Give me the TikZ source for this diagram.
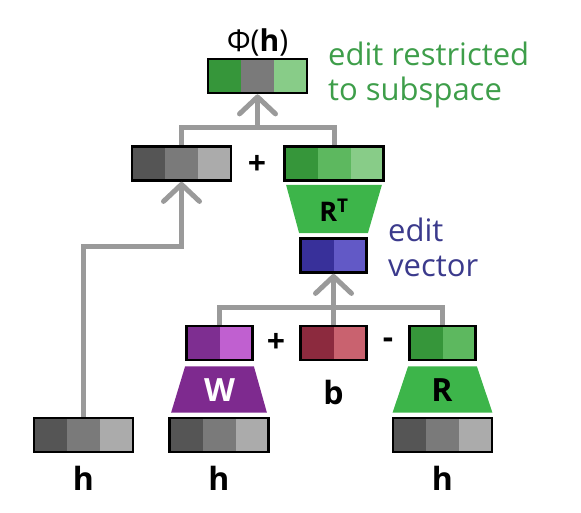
\documentclass[tikz,border=0pt]{standalone}
\usepackage{fontspec}
\setmainfont{Open Sans}
\usetikzlibrary{arrows.meta}
\definecolor{wire}{HTML}{9A9A9A}
\definecolor{gA}{HTML}{555555}\definecolor{gB}{HTML}{7A7A7A}\definecolor{gC}{HTML}{ABABAB}
\definecolor{grA}{HTML}{36963A}\definecolor{grB}{HTML}{5DB85F}\definecolor{grC}{HTML}{88CC88}
\definecolor{trapG}{HTML}{3DB54A}\definecolor{trapW}{HTML}{7E2A8F}
\definecolor{wA}{HTML}{7E2E91}\definecolor{wB}{HTML}{C060D0}
\definecolor{bA}{HTML}{8C2A3E}\definecolor{bB}{HTML}{C9626F}
\definecolor{eA}{HTML}{38309A}\definecolor{eB}{HTML}{6259C6}
\definecolor{txtG}{HTML}{3E9E4A}\definecolor{txtE}{HTML}{3B3A8C}
\tikzset{vec/.style={draw=black,line width=2.8pt,inner sep=0pt,minimum height=34pt}, tri/.style n args={3}{vec,minimum width=99pt,path picture={\fill[#1](path picture bounding box.south west)rectangle++(33pt,34pt);\fill[#2]([xshift=33pt]path picture bounding box.south west)rectangle++(33pt,34pt);\fill[#3]([xshift=66pt]path picture bounding box.south west)rectangle++(33pt,34pt);}}, duo/.style 2 args={vec,minimum width=66pt,path picture={\fill[#1](path picture bounding box.south west)rectangle++(33pt,34pt);\fill[#2]([xshift=33pt]path picture bounding box.south west)rectangle++(33pt,34pt);}}, link/.style={line width=5pt,draw=wire}, arr/.style={link,-{Straight Barb[round,length=17pt,width=36pt]}}, lbl/.style={inner sep=0pt,font=\bfseries\fontsize{32}{36}\selectfont}, note/.style={inner sep=0pt,anchor=north west,align=left,font=\fontsize{31}{35}\selectfont}}

\begin{document}
\begin{tikzpicture}[x=1pt,y=-1pt]
\useasboundingbox(0,0)rectangle(581,513);
\node[tri={gA}{gB}{gC}](hL)at(83.5,435){};\node[tri={gA}{gB}{gC}](hW)at(219,435){};\node[tri={gA}{gB}{gC}](hR)at(442.5,435){};
\node[duo={wA}{wB}](wh)at(219.5,343){};\node[duo={bA}{bB}](bias)at(333.5,343){};\node[duo={grA}{grB}](rh)at(442.5,343){};
\node[duo={eA}{eB}](ev)at(333.5,255.5){};
\node[tri={gA}{gB}{gC}](base)at(181.5,163.5){};\node[tri={grA}{grB}{grC}](delta)at(334,163.5){};
\node[tri={grA}{gB}{grC}](phi)at(257.5,76){};
% projections
\fill[trapW]([yshift=-5pt]wh.south west)--([yshift=-5pt]wh.south east)--([xshift=-3pt,yshift=4pt]hW.north east)--([xshift=3pt,yshift=4pt]hW.north west)--cycle;
\fill[trapG]([yshift=-5pt]rh.south west)--([yshift=-5pt]rh.south east)--([xshift=-1pt,yshift=4pt]hR.north east)--([xshift=1pt,yshift=4pt]hR.north west)--cycle;
\fill[trapG]([xshift=3pt,yshift=-3pt]delta.south west)--([xshift=-3pt,yshift=-3pt]delta.south east)--([yshift=4pt]ev.north east)--([yshift=4pt]ev.north west)--cycle;
\node[lbl,text=white](lW)at(219.5,390){W};\node[lbl](lR)at(442,390){R};\node[lbl](lb)at(333.5,392){b};
\node[lbl,font=\bfseries\fontsize{27}{30}\selectfont](lRT)at(334,210){R\textsuperscript{T}};
\node[lbl](hLl)at(83.5,478){h};\node[lbl](hWl)at(219,478){h};\node[lbl](hRl)at(442.5,478){h};
\node[lbl](plusA)at(257,165){+};\node[lbl](plusB)at(276,343){+};\node[lbl](minus)at(388,343){-};
\node[inner sep=0pt,font=\fontsize{30}{33}\selectfont](lphi)at(257.5,42){Φ(\textbf{h})};
\node[note,text=txtG](nG)at(328,42){edit restricted\\to subspace};
\node[note,text=txtE](nE)at(388,218){edit\\vector};
% connectors
\coordinate(j1)at(181.5,247);\coordinate(j2)at(333.5,307);\coordinate(j3)at(257.5,128);
\draw[arr](hL.north)|-(j1)--(base.south);
\draw[link](wh.north)|-(j2)-|(rh.north);\draw[arr](bias.north)--(ev.south);
\draw[link](base.north)|-(j3)-|(delta.north);\draw[arr](j3)--(phi.south);
\end{tikzpicture}
\end{document}
